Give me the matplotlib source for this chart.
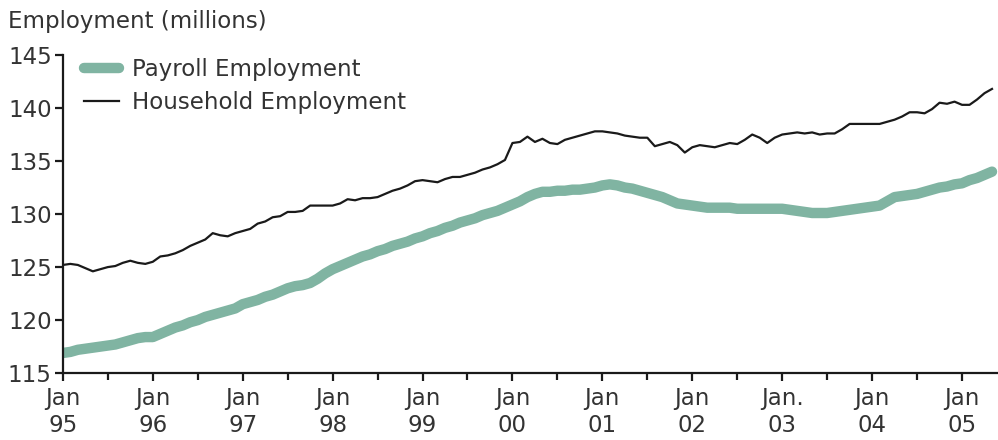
import matplotlib
matplotlib.use("Agg")
import matplotlib.pyplot as plt
import numpy as np

# monthly values, Jan 1995 - May 2005 (millions)
payroll = [
    116.9, 117.0, 117.2, 117.3, 117.4, 117.5, 117.6, 117.7, 117.9, 118.1, 118.3, 118.4,  # 1995
    118.4, 118.7, 119.0, 119.3, 119.5, 119.8, 120.0, 120.3, 120.5, 120.7, 120.9, 121.1,  # 1996
    121.5, 121.7, 121.9, 122.2, 122.4, 122.7, 123.0, 123.2, 123.3, 123.5, 123.9, 124.4,  # 1997
    124.8, 125.1, 125.4, 125.7, 126.0, 126.2, 126.5, 126.7, 127.0, 127.2, 127.4, 127.7,  # 1998
    127.9, 128.2, 128.4, 128.7, 128.9, 129.2, 129.4, 129.6, 129.9, 130.1, 130.3, 130.6,  # 1999
    130.9, 131.2, 131.6, 131.9, 132.1, 132.1, 132.2, 132.2, 132.3, 132.3, 132.4, 132.5,  # 2000
    132.7, 132.8, 132.7, 132.5, 132.4, 132.2, 132.0, 131.8, 131.6, 131.3, 131.0, 130.9,  # 2001
    130.8, 130.7, 130.6, 130.6, 130.6, 130.6, 130.5, 130.5, 130.5, 130.5, 130.5, 130.5,  # 2002
    130.5, 130.4, 130.3, 130.2, 130.1, 130.1, 130.1, 130.2, 130.3, 130.4, 130.5, 130.6,  # 2003
    130.7, 130.8, 131.2, 131.6, 131.7, 131.8, 131.9, 132.1, 132.3, 132.5, 132.6, 132.8,  # 2004
    132.9, 133.2, 133.4, 133.7, 134.0,                                                   # 2005
]
household = [
    125.2, 125.3, 125.2, 124.9, 124.6, 124.8, 125.0, 125.1, 125.4, 125.6, 125.4, 125.3,  # 1995
    125.5, 126.0, 126.1, 126.3, 126.6, 127.0, 127.3, 127.6, 128.2, 128.0, 127.9, 128.2,  # 1996
    128.4, 128.6, 129.1, 129.3, 129.7, 129.8, 130.2, 130.2, 130.3, 130.8, 130.8, 130.8,  # 1997
    130.8, 131.0, 131.4, 131.3, 131.5, 131.5, 131.6, 131.9, 132.2, 132.4, 132.7, 133.1,  # 1998
    133.2, 133.1, 133.0, 133.3, 133.5, 133.5, 133.7, 133.9, 134.2, 134.4, 134.7, 135.1,  # 1999
    136.7, 136.8, 137.3, 136.8, 137.1, 136.7, 136.6, 137.0, 137.2, 137.4, 137.6, 137.8,  # 2000
    137.8, 137.7, 137.6, 137.4, 137.3, 137.2, 137.2, 136.4, 136.6, 136.8, 136.5, 135.8,  # 2001
    136.3, 136.5, 136.4, 136.3, 136.5, 136.7, 136.6, 137.0, 137.5, 137.2, 136.7, 137.2,  # 2002
    137.5, 137.6, 137.7, 137.6, 137.7, 137.5, 137.6, 137.6, 138.0, 138.5, 138.5, 138.5,  # 2003
    138.5, 138.5, 138.7, 138.9, 139.2, 139.6, 139.6, 139.5, 139.9, 140.5, 140.4, 140.6,  # 2004
    140.3, 140.3, 140.8, 141.4, 141.8,                                                   # 2005
]
years = list(range(1995, 2006))
tick_labels = ["Jan\n95", "Jan\n96", "Jan\n97", "Jan\n98", "Jan\n99", "Jan\n00",
               "Jan\n01", "Jan\n02", "Jan.\n03", "Jan\n04", "Jan\n05"]

t = 1995 + np.arange(len(payroll)) / 12.0

plt.rcParams["font.family"] = "DejaVu Sans"
txt = "#333333"
green = "#80b4a2"
fs = 16.5

fig = plt.figure(figsize=(9.98, 4.40), dpi=100)
ax = fig.add_axes([0.063, 0.152, 0.937, 0.723])

ax.plot(t, payroll, color=green, lw=7.5, solid_capstyle="round", label="Payroll Employment")
ax.plot(t, household, color="#1a1a1a", lw=1.6, label="Household Employment")

ax.set_xlim(1995, 2005.4)
ax.set_ylim(115, 145)
ax.set_yticks(range(115, 146, 5))
ax.set_xticks(years)
ax.set_xticklabels(tick_labels)
ax.set_xticks([y + 0.5 for y in years[:-1]], minor=True)

for s in ["top", "right"]:
    ax.spines[s].set_visible(False)
for s in ["left", "bottom"]:
    ax.spines[s].set_linewidth(1.6)
    ax.spines[s].set_color("#1a1a1a")

ax.tick_params(axis="both", which="both", direction="out", width=1.6, color="#1a1a1a")
ax.tick_params(axis="both", which="major", length=6, labelsize=fs, labelcolor=txt, pad=2)
ax.tick_params(axis="x", which="minor", length=5)
ax.tick_params(axis="x", which="major", pad=4)
for lab in ax.get_xticklabels():
    lab.set_linespacing(1.2)

fig.text(0.008, 0.952, "Employment (millions)", fontsize=fs, color=txt, va="center")

leg = ax.legend(loc="upper left", bbox_to_anchor=(0.013, 1.019), frameon=False,
                fontsize=fs, handlelength=1.5, handletextpad=0.6, labelspacing=0.42,
                borderaxespad=0.0)
for text in leg.get_texts():
    text.set_color(txt)

fig.savefig("out.png", dpi=100)
